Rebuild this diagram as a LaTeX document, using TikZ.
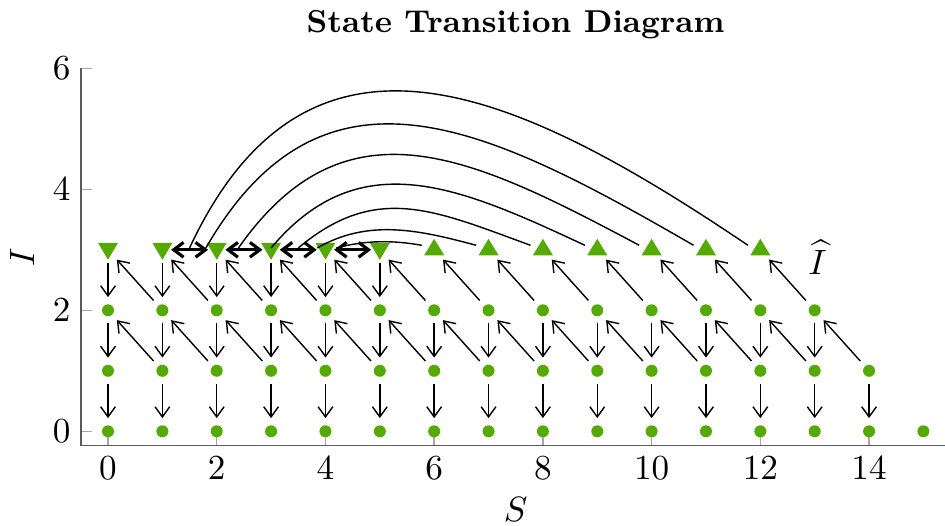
\documentclass[tikz,border=0pt]{standalone}
\usetikzlibrary{arrows.meta}

\definecolor{markgreen}{RGB}{84,170,0}
\definecolor{axisgray}{RGB}{90,90,90}

\begin{document}
\begin{tikzpicture}[x=0.5436cm, y=0.605cm,
    every node/.style={font=\fontsize{9.6}{11}\selectfont},
    state/.style={circle, minimum size=0.25cm, inner sep=0pt},
    flow/.style={-{Straight Barb[length=2.9pt,width=4.2pt]}, line width=0.4pt},
    pairflow/.style={{Straight Barb[length=2.8pt,width=4.2pt]}-{Straight Barb[length=2.8pt,width=4.2pt]},
        line width=0.9pt, shorten <=-0.045cm, shorten >=-0.045cm},
    arcflow/.style={line width=0.4pt}]
    \useasboundingbox (-1.987,-1.549) rectangle (15.397,7.129);

    % axes
    \foreach \y in {0,2,4,6}
        \draw[gray!70] (-0.5,\y) -- ++(0.2,0);
    \foreach \x in {0,2,...,14}
        \draw[gray!70] (\x,-0.235) -- ++(0,0.18);
    \draw[axisgray, line width=0.5pt] (-0.5,6) -- (-0.5,-0.235) -- (15.397,-0.235);
    \foreach \y in {0,2,4,6}
        \node (ytick\y) at (-0.855,\y) {$\y$};
    \foreach \x in {0,2,...,14}
        \node (xtick\x) at (\x,-0.607) {$\x$};
    \node (xlabel) at (7.5,-1.30) {$S$};
    \node[rotate=90] (ylabel) at (-1.58,2.88) {$I$};
    \node[font=\fontsize{9}{11}\selectfont\bfseries] (title) at (7.5,6.716) {State Transition Diagram};

    % states
    \foreach \i/\last in {0/15,1/14,2/13,3/12}
        \foreach \s in {0,...,\last}
            \node[state] (n-\s-\i) at (\s,\i) {};
    \foreach \i/\last in {0/15,1/14,2/13}
        \foreach \s in {0,...,\last}
            \fill[markgreen] (n-\s-\i) circle (0.06cm);
    \foreach \s in {0,...,5}
        \fill[markgreen] (n-\s-3) ++(-0.1cm,0.07cm) -- ++(0.2cm,0) -- ++(-0.1cm,-0.17cm) -- cycle;
    \foreach \s in {6,...,12}
        \fill[markgreen] (n-\s-3) ++(-0.1cm,-0.055cm) -- ++(0.2cm,0) -- ++(-0.1cm,0.165cm) -- cycle;
    \node (ihat) at (13.05,2.88) {$\widehat{I}$};

    % transitions
    \foreach \s in {0,...,5}
        \draw[flow] (n-\s-3) -- (n-\s-2);
    \foreach \i/\last in {1/14,2/13}
        \foreach \s in {0,...,\last} {
            \pgfmathtruncatemacro\j{\i-1}
            \draw[flow] (n-\s-\i) -- (n-\s-\j);
        }
    \foreach \i/\last in {2/13,3/12}
        \foreach \s in {0,...,\last} {
            \pgfmathtruncatemacro\t{\s+1}
            \pgfmathtruncatemacro\j{\i-1}
            \draw[flow] (n-\t-\j) -- (n-\s-\i);
        }
    \foreach \s in {1,...,4} {
        \pgfmathtruncatemacro\t{\s+1}
        \draw[pairflow] (n-\s-3) -- (n-\t-3);
    }
    \foreach \k/\sx/\e/\o/\n/\d in {1/1.5/12/65/146/2.8, 2/1.8/11/60/150/2.36,
        3/2.4/10/55/152/1.88, 4/3.0/9/50/155/1.38, 5/3.5/8/40/160/1.02,
        6/3.85/7/30/165/0.59, 7/4.2/6/15/170/0.3} {
        \coordinate (a\k) at (\sx,3.03);
        \draw[arcflow] (a\k) .. controls +(\o:\d cm) and +(\n:\d cm) .. (n-\e-3.160);
    }
\end{tikzpicture}
\end{document}
